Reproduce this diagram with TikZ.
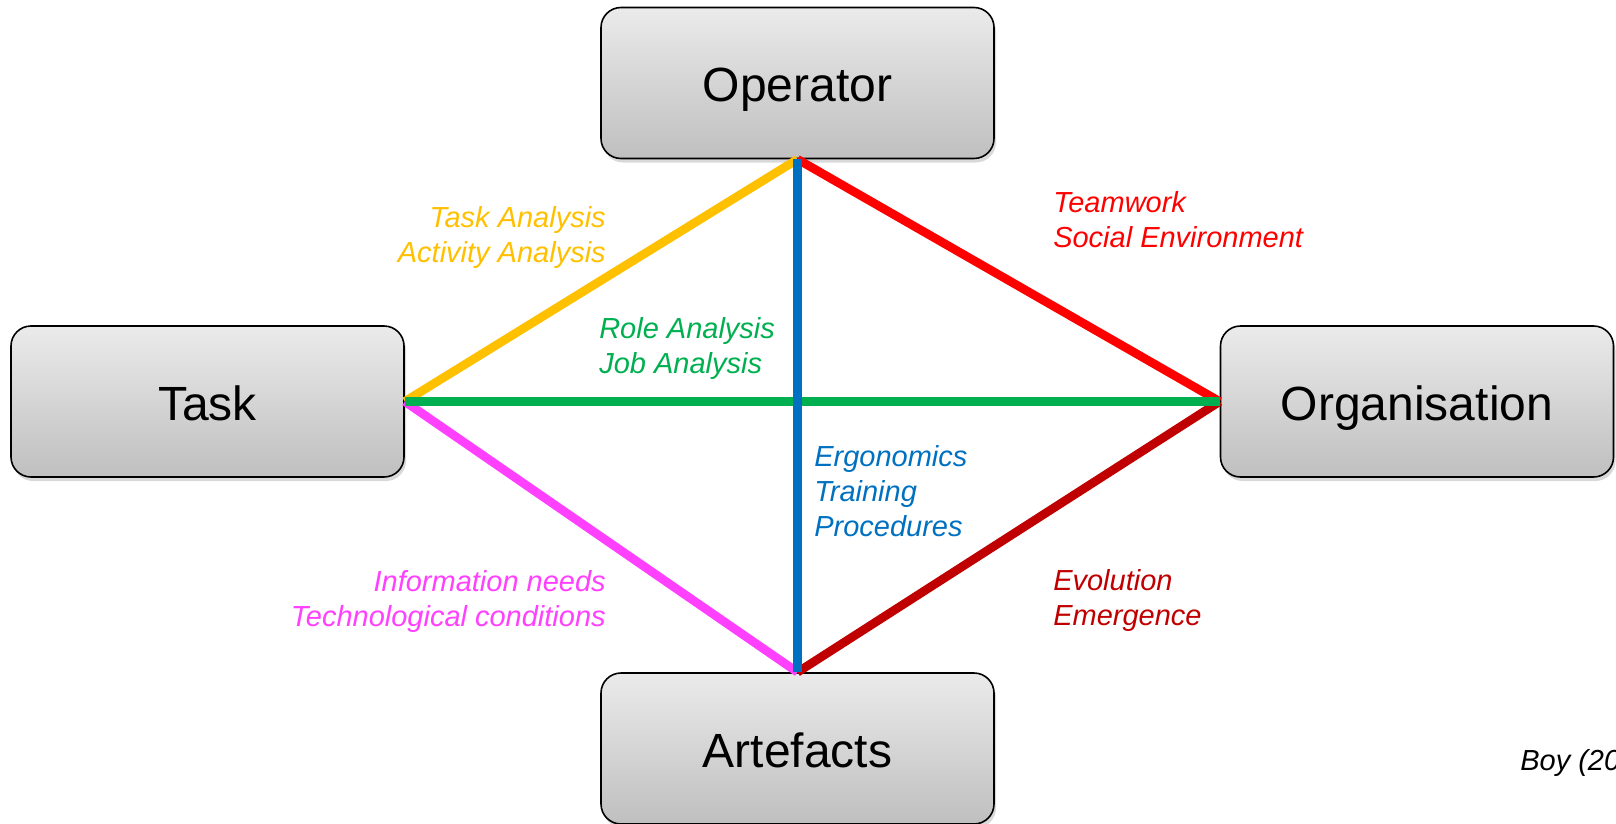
\documentclass[tikz,border=0pt]{standalone}
\usepackage{fontspec}
\setmainfont{Liberation Sans}
\usetikzlibrary{shadows}

\definecolor{yellowlink}{HTML}{FFC000}
\definecolor{redlink}{HTML}{FF0000}
\definecolor{greenlink}{HTML}{00B050}
\definecolor{bluelink}{HTML}{0070C0}
\definecolor{pinklink}{HTML}{FF40FF}
\definecolor{darkredlink}{HTML}{C00000}

\tikzset{
	factor/.style={draw, line width=1.2pt, rounded corners=15pt,
		minimum width=294.75pt, minimum height=113.25pt,
		text height=28pt, text depth=0pt,
		top color=black!8, bottom color=black!25,
		drop shadow={shadow xshift=1.5pt, shadow yshift=-3pt, opacity=0.3},
		font=\fontsize{36}{43}\selectfont},
	link/.style={line width=6.5pt},
	note/.style={inner sep=0pt, font=\fontsize{21.75}{25.9}\selectfont\itshape},
}

\begin{document}
\begin{tikzpicture}[x=0.75pt, y=-0.75pt]
		\useasboundingbox (0,0) rectangle (1616,824);

		\node[factor] (operator) at (797.5, 83) {Operator};
		\node[factor] (task) at (207.5, 401.5) {Task};
		\node[factor] (organisation) at (1417, 401.5) {Organisation};
		\node[factor] (artefacts) at (797.5, 748.5) {Artefacts};

		\foreach \s/\t/\c in {task.east/operator.south/yellowlink,
			operator.south/organisation.west/redlink,
			task.east/artefacts.north/pinklink,
			artefacts.north/organisation.west/darkredlink,
			task.east/organisation.west/greenlink,
			operator.south/artefacts.north/bluelink} {
			\draw[link, \c] (\s) -- (\t);
		}

		% base anchor sits on the last line
		\node[note, anchor=base east, align=right, yellowlink] (taskanalysis) at (606, 262) {Task Analysis\\Activity Analysis};
		\node[note, anchor=base west, align=left, greenlink] (roleanalysis) at (599, 373) {Role Analysis\\Job Analysis};
		\node[note, anchor=base west, align=left, redlink] (teamwork) at (1053, 247) {Teamwork\\Social Environment};
		\node[note, anchor=base west, align=left, bluelink] (ergonomics) at (814, 536) {Ergonomics\\Training\\Procedures};
		\node[note, anchor=base east, align=right, pinklink] (information) at (606, 626) {Information needs\\Technological conditions};
		\node[note, anchor=base west, align=left, darkredlink] (evolution) at (1053, 625) {Evolution\\Emergence};
		\node[note, anchor=base west] (source) at (1520, 770) {Boy (20};
	\end{tikzpicture}
\end{document}
